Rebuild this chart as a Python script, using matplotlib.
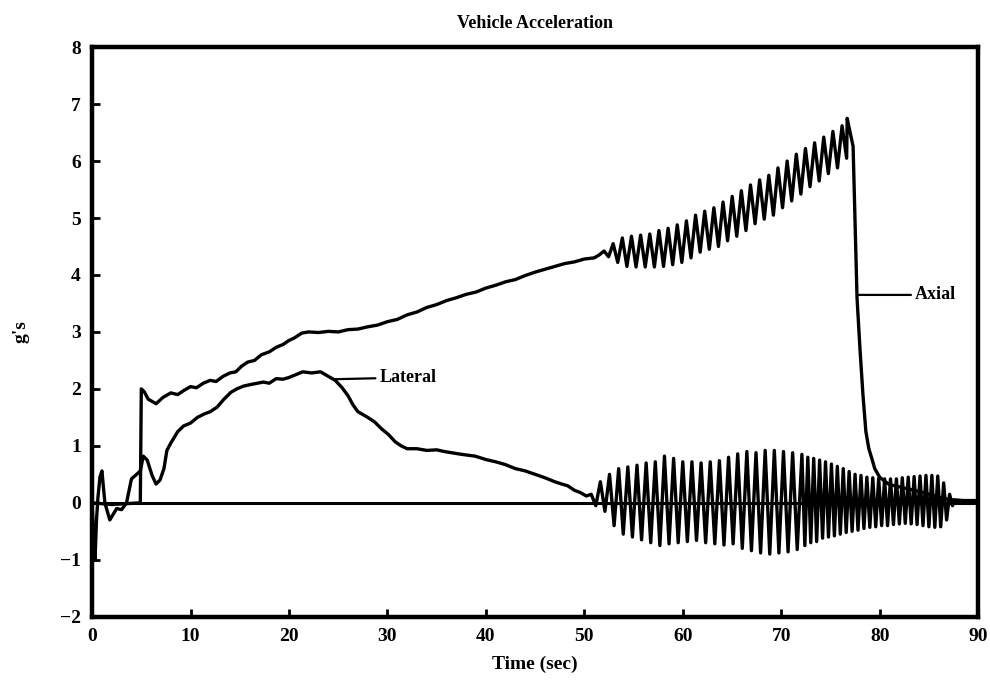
import numpy as np
import matplotlib
matplotlib.use('Agg')
import matplotlib.pyplot as plt

plt.rcParams['font.family'] = ['Liberation Serif', 'DejaVu Serif']
plt.rcParams['font.weight'] = 'bold'

# ---- axial, smooth part (time in sec, g's) ----
axial_t = [0, 2.0, 3.0, 4.9, 5.0, 5.3, 5.7, 6.5, 7.2, 8.0, 8.7, 9.3, 10.0, 10.6, 11.3,
           12.0, 12.6, 13.3, 14.0, 14.6, 15.2, 15.8, 16.5, 17.2, 18.0, 18.7, 19.4,
           20.0, 20.6, 21.3, 22.0, 23.0, 24.0, 25.0, 26.0, 27.0, 28.0, 29.0, 30.0,
           31.0, 32.0, 33.0, 34.0, 35.0, 36.0, 37.0, 38.0, 39.0, 40.0, 41.0, 42.0,
           43.0, 44.0, 45.0, 46.0, 47.0, 48.0, 49.0, 50.0, 51.0, 51.5]
axial_g = [0, -0.03, -0.02, 0, 2.0, 1.95, 1.82, 1.74, 1.85, 1.93, 1.9, 1.97, 2.04, 2.02,
           2.1, 2.15, 2.13, 2.22, 2.28, 2.3, 2.4, 2.47, 2.5, 2.6, 2.65, 2.73, 2.78,
           2.85, 2.9, 2.98, 3.0, 2.99, 3.01, 3.0, 3.04, 3.05, 3.09, 3.12, 3.18,
           3.22, 3.3, 3.35, 3.43, 3.48, 3.55, 3.6, 3.66, 3.7, 3.77, 3.82, 3.88,
           3.92, 3.99, 4.05, 4.1, 4.15, 4.2, 4.23, 4.28, 4.3, 4.35]

# axial oscillation: peaks / troughs, one per cycle
axial_osc_start = 52.0
axial_osc_period = 0.93
axial_peaks = [4.42, 4.55, 4.65, 4.68, 4.7, 4.72, 4.78, 4.82, 4.88, 4.95, 5.05, 5.12,
               5.18, 5.28, 5.38, 5.48, 5.58, 5.67, 5.75, 5.88, 6.0, 6.12, 6.22, 6.32,
               6.42, 6.52, 6.62]
axial_troughs = [4.32, 4.22, 4.15, 4.14, 4.14, 4.14, 4.15, 4.18, 4.22, 4.3, 4.4, 4.45,
                 4.5, 4.6, 4.68, 4.78, 4.9, 4.98, 5.05, 5.18, 5.3, 5.42, 5.55, 5.65,
                 5.78, 5.88, 6.05]

# axial, burnout / drop
axial_end_t = [76.7, 77.0, 77.3, 77.7, 78.0, 78.3, 78.6, 78.9, 79.2, 79.5, 80.0, 80.5,
               81.0, 82.0, 83.0, 84.0, 85.0, 86.0, 87.0, 88.0, 90.0]
axial_end_g = [6.75, 6.5, 6.26, 3.6, 2.7, 1.9, 1.25, 0.95, 0.78, 0.6, 0.45, 0.38,
               0.32, 0.28, 0.24, 0.2, 0.15, 0.1, 0.06, 0.04, 0.03]

# ---- lateral, smooth part ----
lat_t = [0, 0.15, 0.3, 0.45, 0.6, 0.8, 1.0, 1.3, 1.8, 2.5, 3.0, 3.5, 3.8, 4.0, 4.4,
         4.9, 5.2, 5.6, 6.1, 6.5, 6.9, 7.3, 7.6, 8.0, 8.7, 9.3, 10.0, 10.7, 11.4,
         12.0, 12.7, 13.4, 14.1, 14.7, 15.4, 16.2, 17.4, 18.0, 18.7, 19.4, 20.0,
         20.7, 21.4, 22.3, 23.2, 24.0, 24.7, 25.4, 26.0, 26.5, 27.0, 27.5, 28.0,
         28.7, 29.4, 30.1, 30.8, 31.4, 32.0, 33.0, 34.0, 35.0, 35.8, 36.5, 37.2,
         38.0, 38.9, 40.0, 41.0, 42.0, 43.0, 44.0, 45.0, 46.0, 47.0, 47.7, 48.3,
         49.0, 49.6, 50.2]
lat_g = [0, -0.6, -1.0, -0.3, 0.1, 0.45, 0.56, 0.0, -0.3, -0.1, -0.12, 0.0, 0.25, 0.42,
         0.48, 0.56, 0.82, 0.75, 0.48, 0.33, 0.4, 0.6, 0.92, 1.05, 1.25, 1.35, 1.4,
         1.5, 1.56, 1.6, 1.68, 1.82, 1.94, 2.0, 2.05, 2.08, 2.12, 2.1, 2.18, 2.17,
         2.2, 2.25, 2.3, 2.28, 2.3, 2.22, 2.15, 2.02, 1.88, 1.72, 1.6, 1.55, 1.5,
         1.42, 1.3, 1.2, 1.07, 1.0, 0.95, 0.95, 0.92, 0.93, 0.9, 0.88, 0.86,
         0.84, 0.82, 0.76, 0.72, 0.67, 0.6, 0.56, 0.5, 0.44, 0.37, 0.33, 0.3,
         0.22, 0.18, 0.12]

# lateral oscillation, first part (slower)
lat_osc1_start = 50.7
lat_osc1_period = 0.93
lat_peaks1 = [0.15, 0.37, 0.5, 0.6, 0.63, 0.66, 0.7, 0.72, 0.82, 0.78, 0.72, 0.72,
              0.7, 0.72, 0.74, 0.8, 0.86, 0.9, 0.88, 0.92, 0.92, 0.9, 0.88]
lat_troughs1 = [-0.05, -0.15, -0.4, -0.55, -0.6, -0.65, -0.7, -0.75, -0.72, -0.7, -0.68,
                -0.66, -0.7, -0.72, -0.74, -0.72, -0.8, -0.84, -0.88, -0.9, -0.88,
                -0.86, -0.82]

# lateral oscillation, second part (faster)
lat_osc2_start = 72.1
lat_osc2_period = 0.6
lat_peaks2 = [0.85, 0.8, 0.78, 0.75, 0.72, 0.68, 0.64, 0.6, 0.55, 0.5, 0.48, 0.45,
              0.44, 0.43, 0.42, 0.42, 0.42, 0.44, 0.45, 0.46, 0.47, 0.48, 0.48, 0.47,
              0.35, 0.15]
lat_troughs2 = [-0.75, -0.7, -0.68, -0.62, -0.6, -0.58, -0.55, -0.52, -0.5, -0.48,
                -0.45, -0.43, -0.42, -0.4, -0.4, -0.38, -0.37, -0.36, -0.37, -0.38,
                -0.4, -0.42, -0.43, -0.42, -0.3, -0.05]

lat_end_t = [87.6, 88.5, 90.0]
lat_end_g = [0.05, 0.04, 0.04]


def oscillation(start, period, peaks, troughs):
    vals = np.empty(2 * len(peaks))
    vals[0::2] = peaks
    vals[1::2] = troughs
    t = start + period / 2 * np.arange(len(vals))
    return t, vals


ax_t1, ax_g1 = oscillation(axial_osc_start, axial_osc_period, axial_peaks, axial_troughs)
axial_time = np.concatenate([axial_t, ax_t1, axial_end_t])
axial_val = np.concatenate([axial_g, ax_g1, axial_end_g])

la_t1, la_g1 = oscillation(lat_osc1_start, lat_osc1_period, lat_peaks1, lat_troughs1)
la_t2, la_g2 = oscillation(lat_osc2_start, lat_osc2_period, lat_peaks2, lat_troughs2)
lat_time = np.concatenate([lat_t, la_t1, la_t2, lat_end_t])
lat_val = np.concatenate([lat_g, la_g1, la_g2, lat_end_g])

fig = plt.figure(figsize=(9.9, 6.83), dpi=100)
ax = fig.add_axes([0.093, 0.097, 0.895, 0.834])

ax.axhline(0, color='black', lw=2.2, zorder=1)
ax.plot(axial_time, axial_val, color='black', lw=2.4)
ax.plot(lat_time, lat_val, color='black', lw=2.4)

ax.annotate('Axial', xy=(77.7, 3.65), xytext=(83.6, 3.65), va='center', ha='left',
            fontsize=13, fontweight='bold',
            arrowprops=dict(arrowstyle='-', lw=1.6, color='black', shrinkA=1, shrinkB=0))
ax.annotate('Lateral', xy=(24.6, 2.17), xytext=(29.2, 2.2), va='center', ha='left',
            fontsize=13, fontweight='bold',
            arrowprops=dict(arrowstyle='-', lw=1.6, color='black', shrinkA=1, shrinkB=0))

ax.set_xlim(0, 90)
ax.set_ylim(-2, 8)
ax.set_xticks(np.arange(0, 91, 10))
ax.set_yticks(np.arange(-2, 9, 1))
ax.tick_params(direction='in', length=6, width=2, labelsize=14, pad=8,
               top=False, right=False)
for s in ax.spines.values():
    s.set_linewidth(3.2)

ax.set_title('Vehicle Acceleration', fontsize=13, fontweight='bold', pad=14)
ax.set_xlabel('Time (sec)', fontsize=14, fontweight='bold', labelpad=8)
ax.set_ylabel("g's", fontsize=14, fontweight='bold', labelpad=22)

fig.savefig('out.png', dpi=100)
